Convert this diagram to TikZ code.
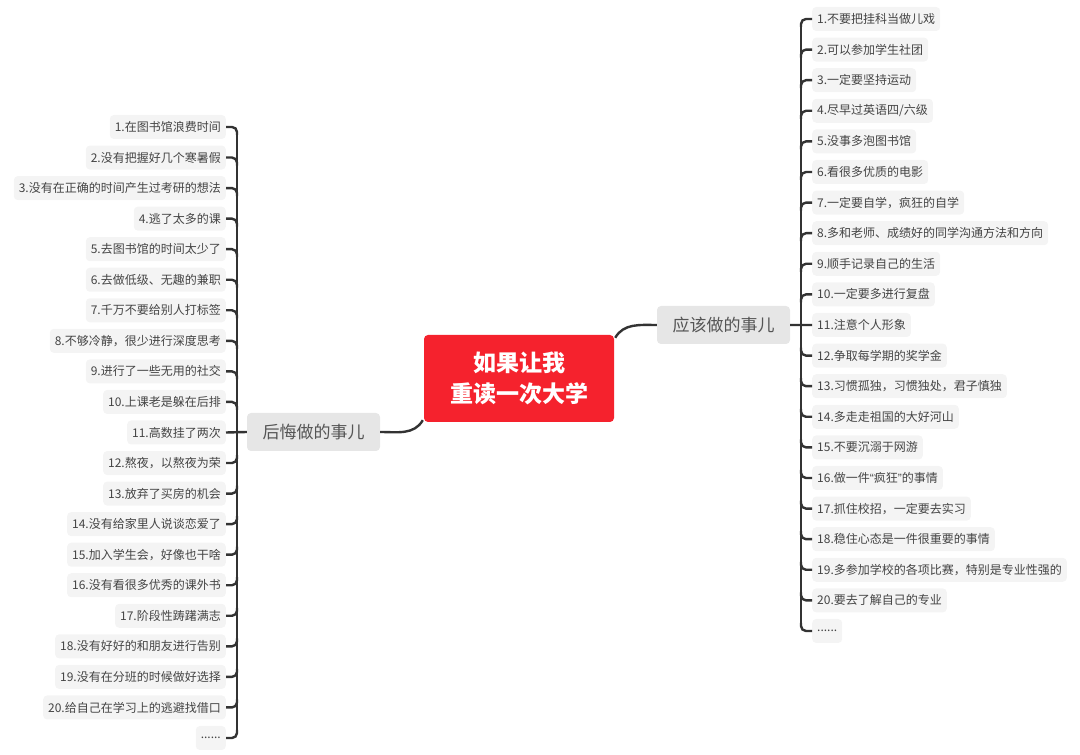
\documentclass[tikz,border=0pt]{standalone}
\usepackage{fontspec}
\setmainfont{Noto Sans CJK SC}
\newfontfamily\narrowq{Liberation Sans}
\usepackage{tikz}
\usetikzlibrary{positioning, calc}
\definecolor{rootred}{RGB}{245,34,45}
\definecolor{linkgray}{RGB}{51,51,51}
\definecolor{branchfill}{RGB}{230,230,230}
\definecolor{leaffill}{RGB}{244,244,244}
\definecolor{branchtext}{RGB}{85,85,85}
\definecolor{leaftext}{RGB}{68,68,68}
\newcommand{\moredots}{......}

\begin{document}
\begin{tikzpicture}[x=1pt, y=1pt,
        root/.style={rectangle, fill=rootred, text=white, minimum width=190pt, minimum height=87pt, align=center, rounded corners=4pt, font=\bfseries\fontsize{23}{31}\selectfont},
        branch/.style={rectangle, fill=branchfill, text=branchtext, minimum width=133pt, minimum height=38pt, rounded corners=4pt, font=\fontsize{17}{20}\selectfont},
        leaf/.style={rectangle, fill=leaffill, text=leaftext, minimum height=24pt, inner xsep=5pt, rounded corners=4pt, font=\fontsize{12}{14}\selectfont},
        link/.style={draw=linkgray, line width=2.4pt, rounded corners=5pt}
    ]
        \useasboundingbox (0,0) rectangle (1080,755);
        \node[root] (ROOT) at (519,376.5) {如果让我\\重读一次大学};
        \node[branch] (REGRET) at (313.5,323) {后悔做的事儿};
        \node[branch] (SHOULD) at (723.5,430) {应该做的事儿};

        % left leaves
        \foreach \txt [count=\i] in {1.在图书馆浪费时间, 2.没有把握好几个寒暑假, 3.没有在正确的时间产生过考研的想法, 4.逃了太多的课, 5.去图书馆的时间太少了, 6.去做低级、无趣的兼职, 7.千万不要给别人打标签, 8.不够冷静，很少进行深度思考, 9.进行了一些无用的社交, 10.上课老是躲在后排, 11.高数挂了两次, 12.熬夜，以熬夜为荣, 13.放弃了买房的机会, 14.没有给家里人说谈恋爱了, 15.加入学生会，好像也干啥, 16.没有看很多优秀的课外书, 17.阶段性踌躇满志, 18.没有好好的和朋友进行告别, 19.没有在分班的时候做好选择, 20.给自己在学习上的逃避找借口, \moredots}
            \node[leaf, anchor=east] (REG\i) at (226,{628-(\i-1)*30.55}) {\txt};

        % right leaves
        \foreach \txt [count=\i] in {1.不要把挂科当做儿戏, 2.可以参加学生社团, 3.一定要坚持运动, {4.尽早过英语四/六级}, 5.没事多泡图书馆, 6.看很多优质的电影, 7.一定要自学，疯狂的自学, 8.多和老师、成绩好的同学沟通方法和方向, 9.顺手记录自己的生活, 10.一定要多进行复盘, 11.注意个人形象, 12.争取每学期的奖学金, 13.习惯孤独，习惯独处，君子慎独, 14.多走走祖国的大好河山, 15.不要沉溺于网游, {16.做一件{\narrowq “}疯狂{\narrowq ”}的事情}, 17.抓住校招，一定要去实习, 18.稳住心态是一件很重要的事情, 19.多参加学校的各项比赛，特别是专业性强的, 20.要去了解自己的专业, \moredots}
            \node[leaf, anchor=west] (SHD\i) at (812,{736-(\i-1)*30.6}) {\txt};

        % connectors
        \draw[link] ($(ROOT.north east)+(1,-3)$) to[out=60, in=180] (SHOULD.west);
        \draw[link] ($(ROOT.south west)+(-1,2)$) to[out=240, in=0] (REGRET.east);
        \draw[link] (REGRET.west) -- (REG11.east);
        \draw[link] (SHOULD.east) -- (SHD11.west);
        \draw[link] ($(REG1.east)+(11,-6)$) -- ($(REG21.east)+(11,6)$);
        \draw[link] ($(SHD1.west)+(-11,-6)$) -- ($(SHD21.west)+(-11,6)$);
        \foreach \i in {1,...,10} {
            \draw[link] (REG\i.east) -| ++(11,-8);
            \draw[link] (SHD\i.west) -| ++(-11,-8);
        }
        \foreach \i in {12,...,21} {
            \draw[link] (REG\i.east) -| ++(11,8);
            \draw[link] (SHD\i.west) -| ++(-11,8);
        }
    \end{tikzpicture}
\end{document}
